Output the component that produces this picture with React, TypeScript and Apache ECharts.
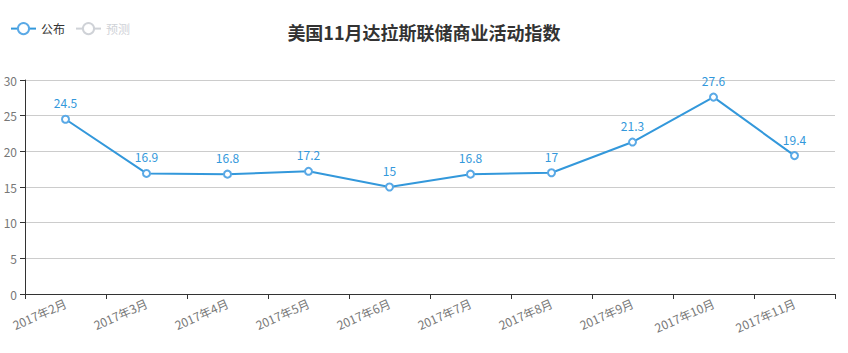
import React, { useEffect, useRef } from "react";
import * as echarts from "echarts";

const categories = ["2017年2月", "2017年3月", "2017年4月", "2017年5月", "2017年6月", "2017年7月", "2017年8月", "2017年9月", "2017年10月", "2017年11月"];
const published = [24.5, 16.9, 16.8, 17.2, 15, 16.8, 17, 21.3, 27.6, 19.4];
const forecast: (number | null)[] = [];
const titleText = "美国11月达拉斯联储商业活动指数";

export default function App() {
  const ref = useRef<HTMLDivElement>(null);
  useEffect(() => {
    const chart = echarts.init(ref.current!, null, { renderer: "svg" });
    const font = "'Microsoft YaHei', 'Noto Sans CJK SC', sans-serif";
    chart.setOption({
      animation: false,
      textStyle: { fontFamily: font },
      title: {
        text: titleText,
        left: "center",
        top: 18,
        textStyle: { fontSize: 18, fontWeight: "bold", color: "#333", fontFamily: font },
      },
      legend: {
        left: 5,
        top: 17,
        itemGap: 10,
        data: ["公布", "预测"],
        selected: { "公布": true, "预测": false },
        textStyle: { color: "#333", fontSize: 12, fontFamily: font },
      },
      grid: { left: 25, right: 13, top: 80, bottom: 59, containLabel: false },
      xAxis: {
        type: "category",
        data: categories,
        boundaryGap: true,
        axisLine: { lineStyle: { color: "#333" } },
        axisTick: { show: true, alignWithLabel: false, lineStyle: { color: "#333" } },
        axisLabel: { rotate: 24, color: "#777", fontSize: 12, interval: 0, fontFamily: font },
      },
      yAxis: {
        type: "value",
        min: 0,
        max: 30,
        interval: 5,
        axisLine: { show: true, lineStyle: { color: "#333" } },
        axisTick: { show: true, lineStyle: { color: "#333" } },
        axisLabel: { color: "#777", fontSize: 12, fontFamily: font },
        splitLine: { lineStyle: { color: "#ccc" } },
      },
      series: [
        {
          name: "公布",
          type: "line",
          data: published,
          symbol: "emptyCircle",
          symbolSize: 7,
          itemStyle: { color: "#5aa9e6", borderColor: "#5aa9e6", borderWidth: 1 },
          lineStyle: { color: "#3398DB", width: 2 },
          label: { show: true, position: "top", color: "#3398DB", fontSize: 12, distance: 6 },
        },
        {
          name: "预测",
          type: "line",
          data: forecast,
          symbol: "emptyCircle",
          symbolSize: 7,
          itemStyle: { color: "#ccc", borderColor: "#ccc", borderWidth: 1 },
          lineStyle: { color: "#ccc" },
        },
      ],
    });
    return () => chart.dispose();
  }, []);
  return <div ref={ref} style={{ width: 848, height: 353, position: "absolute", left: 0, top: 0 }} />;
}
